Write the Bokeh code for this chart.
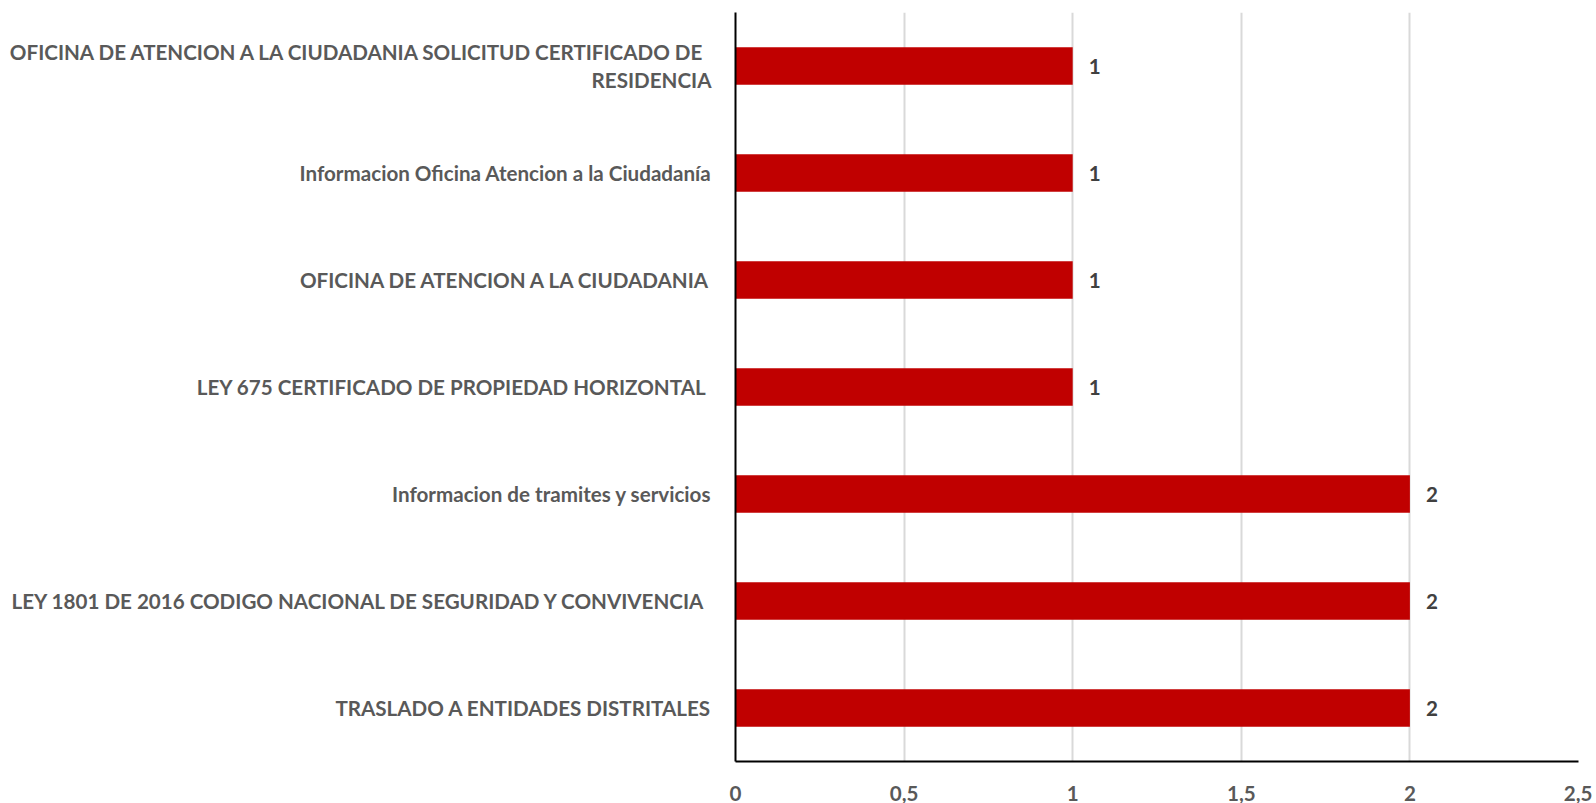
from bokeh.plotting import figure
from bokeh.models import FactorRange, Range1d, FixedTicker, ColumnDataSource
from bokeh.core.properties import value
from bokeh.embed import file_html
from bokeh.resources import INLINE

categories = [
    "OFICINA DE ATENCION A LA CIUDADANIA  SOLICITUD CERTIFICADO DE\nRESIDENCIA",
    "Informacion Oficina Atencion a la Ciudadanía",
    "OFICINA DE ATENCION A LA CIUDADANIA",
    "LEY 675  CERTIFICADO DE PROPIEDAD HORIZONTAL",
    "Informacion de tramites y servicios",
    "LEY 1801 DE 2016  CODIGO NACIONAL DE SEGURIDAD Y CONVIVENCIA",
    "TRASLADO A ENTIDADES DISTRITALES",
]
counts = [1, 1, 1, 1, 2, 2, 2]
xtick_values = [0, 0.5, 1, 1.5, 2, 2.5]
xtick_labels = ["0", "0,5", "1", "1,5", "2", "2,5"]

FONT = "Lato"
FS = "20.6px"

p = figure(
    width=1592, height=803,
    y_range=FactorRange(factors=list(reversed(categories))),
    x_range=Range1d(0, 2.5),
    output_backend="svg", toolbar_location=None,
    min_border_left=735, min_border_right=14, min_border_top=12,
)
p.outline_line_color = None

src = ColumnDataSource(dict(cat=categories, val=counts, lab=[str(v) for v in counts]))
p.hbar(y="cat", right="val", left=0, height=0.35, source=src,
       fill_color="#C00000", line_color=None)
p.text(x="val", y="cat", text="lab", source=src, x_offset=16,
       text_baseline="middle", text_align="left",
       text_font=value(FONT), text_font_style="bold", text_font_size=FS,
       text_color="#404040")

p.ygrid.grid_line_color = None
p.xgrid.grid_line_color = "#D9D9D9"
p.xgrid.grid_line_width = 2
p.xaxis.ticker = FixedTicker(ticks=xtick_values)
p.xaxis.major_label_overrides = {v: l for v, l in zip(xtick_values, xtick_labels)}

for ax in (p.xaxis, p.yaxis):
    ax.axis_line_color = "black"
    ax.axis_line_width = 2
    ax.major_tick_line_color = None
    ax.minor_tick_line_color = None
    ax.major_label_text_font = FONT
    ax.major_label_text_font_style = "bold"
    ax.major_label_text_font_size = FS
    ax.major_label_text_color = "#595959"

p.xaxis.major_label_standoff = 18
p.yaxis.major_label_standoff = 18

open("out.html", "w").write(file_html(p, INLINE))
